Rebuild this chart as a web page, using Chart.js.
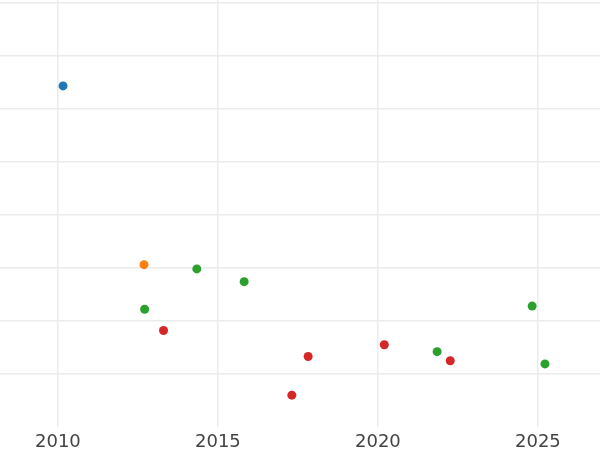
<!DOCTYPE html>
<html lang="en">
<head>
  <meta charset="UTF-8" />
  <title>Scatter by Year</title>
  <script src="https://cdn.jsdelivr.net/npm/chart.js"></script>
  <style>
    html, body { margin: 0; padding: 0; background: #fff; }
    #wrap { width: 600px; height: 450px; }
  </style>
</head>
<body>
  <div id="wrap"><canvas id="scatterChart"></canvas></div>

  <script>
    // values
    const blueYears = [2010.16];
    const blueValues = [6.43];

    const orangeYears = [2012.69];
    const orangeValues = [3.06];

    const greenYears = [2012.71, 2014.34, 2015.82, 2021.85, 2024.82, 2025.22];
    const greenValues = [2.22, 2.98, 2.74, 1.42, 2.28, 1.19];

    const redYears = [2013.30, 2017.31, 2017.82, 2020.20, 2022.26];
    const redValues = [1.82, 0.60, 1.33, 1.55, 1.25];

    const xTicks = [2010, 2015, 2020, 2025];
    const yTicks = [1, 2, 3, 4, 5, 6, 7, 8];

    function toPoints(xs, ys) {
      return xs.map((x, i) => ({ x: x, y: ys[i] }));
    }

    function makeSet(label, xs, ys, color) {
      return {
        label: label,
        data: toPoints(xs, ys),
        backgroundColor: color,
        borderWidth: 0,
        pointRadius: 4.5,
        pointHoverRadius: 4.5
      };
    }

    const ctx = document.getElementById('scatterChart').getContext('2d');
    new Chart(ctx, {
      type: 'scatter',
      data: {
        datasets: [
          makeSet('blue', blueYears, blueValues, '#1f77b4'),
          makeSet('orange', orangeYears, orangeValues, '#ff7f0e'),
          makeSet('green', greenYears, greenValues, '#2ca02c'),
          makeSet('red', redYears, redValues, '#d62728')
        ]
      },
      options: {
        responsive: true,
        maintainAspectRatio: false,
        animation: false,
        layout: { autoPadding: false, padding: 0 },
        plugins: { legend: { display: false }, tooltip: { enabled: false } },
        scales: {
          x: {
            type: 'linear',
            min: 2008.19,
            max: 2026.94,
            afterBuildTicks: axis => { axis.ticks = xTicks.map(v => ({ value: v })); },
            afterFit: axis => { axis.height = 23; },
            border: { display: false },
            grid: { color: '#ebebeb', lineWidth: 1.5, drawTicks: false },
            ticks: {
              padding: 6,
              color: '#444',
              font: { family: 'DejaVu Sans', size: 18, lineHeight: 1 },
              callback: v => String(v)
            }
          },
          y: {
            min: 0,
            max: 8.05,
            afterBuildTicks: axis => { axis.ticks = yTicks.map(v => ({ value: v })); },
            border: { display: false },
            grid: { color: '#ebebeb', lineWidth: 1.5, drawTicks: false },
            ticks: { display: false }
          }
        }
      }
    });
  </script>
</body>
</html>
